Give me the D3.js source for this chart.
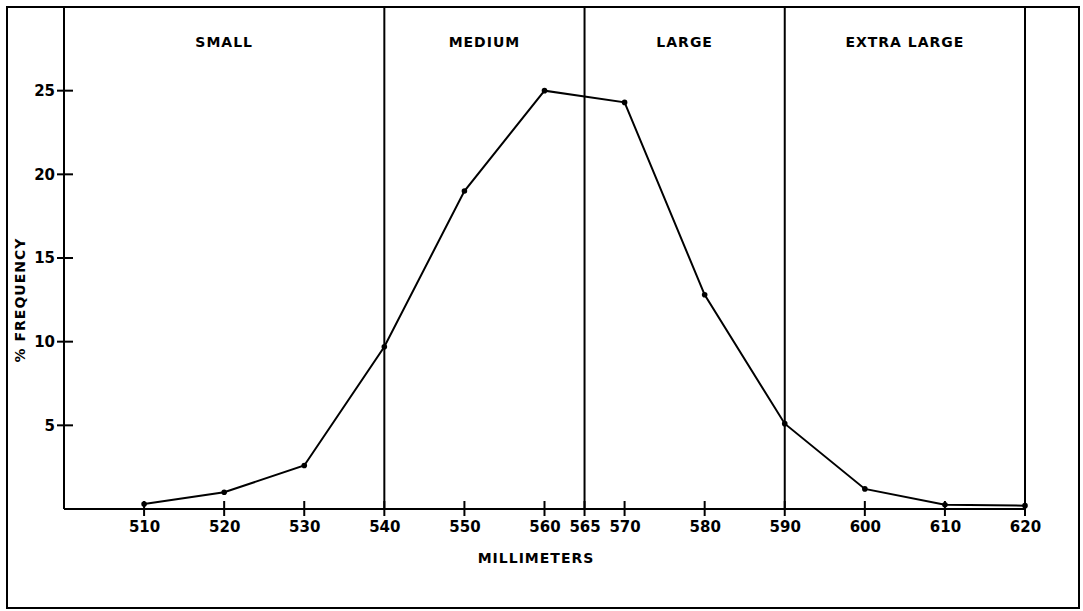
<!DOCTYPE html>
<html>
<head>
<meta charset="utf-8">
<script src="https://cdn.jsdelivr.net/npm/d3@7"></script>
<style>
  html, body { margin: 0; padding: 0; background: #fff; }
  svg text { font-family: "DejaVu Sans", "Liberation Sans", sans-serif; font-weight: bold; fill: #000; }
</style>
</head>
<body>
<svg id="chart" width="1083" height="611"></svg>
<script>
// ---- data ----
const sizes = [510, 520, 530, 540, 550, 560, 570, 580, 590, 600, 610, 620];
const frequency = [0.3, 1.0, 2.6, 9.7, 19.0, 25.0, 24.3, 12.8, 5.1, 1.2, 0.25, 0.2];
const xTicks = [510, 520, 530, 540, 550, 560, 565, 570, 580, 590, 600, 610, 620];
const yTicks = [5, 10, 15, 20, 25];
const boundaries = [540, 565, 590, 620];
const categories = ["SMALL", "MEDIUM", "LARGE", "EXTRA LARGE"];
const categoryRanges = [[500, 540], [540, 565], [565, 590], [590, 620]];

const svg = d3.select("#chart");
const x = d3.scaleLinear().domain([500, 620]).range([64, 1025]);
const y = d3.scaleLinear().domain([0, 30]).range([509, 7]);

// outer frame
svg.append("rect").attr("x", 7).attr("y", 7).attr("width", 1072).attr("height", 601)
  .attr("fill", "none").attr("stroke", "#000").attr("stroke-width", 2);

// category boundaries
svg.selectAll("line.bound").data(boundaries).join("line")
  .attr("class", "bound")
  .attr("x1", d => x(d)).attr("x2", d => x(d))
  .attr("y1", y(30)).attr("y2", y(0))
  .attr("stroke", "#000").attr("stroke-width", 2);

// category labels
svg.selectAll("text.cat").data(categories).join("text")
  .attr("class", "cat")
  .attr("x", (d, i) => (x(categoryRanges[i][0]) + x(categoryRanges[i][1])) / 2)
  .attr("y", 47)
  .attr("text-anchor", "middle")
  .attr("font-size", 14)
  .attr("letter-spacing", 1)
  .text(d => d);

// y axis
const yAxis = d3.axisLeft(y).tickValues(yTicks).tickSize(0).tickPadding(9);
const gy = svg.append("g").attr("transform", `translate(${x(500)},0)`).call(yAxis);
gy.select(".domain").remove();
gy.selectAll(".tick text").attr("font-size", 15).attr("font-family", "DejaVu Sans").attr("font-weight", "bold");
svg.selectAll("line.ytick").data(yTicks).join("line").attr("class", "ytick")
  .attr("x1", x(500) - 7).attr("x2", x(500) + 9)
  .attr("y1", d => y(d)).attr("y2", d => y(d))
  .attr("stroke", "#000").attr("stroke-width", 2);
svg.append("line").attr("x1", x(500)).attr("x2", x(500)).attr("y1", y(30)).attr("y2", y(0))
  .attr("stroke", "#000").attr("stroke-width", 2);

// x axis
const xAxis = d3.axisBottom(x).tickValues(xTicks).tickSize(0).tickPadding(12).tickFormat(d3.format("d"));
const gx = svg.append("g").attr("transform", `translate(0,${y(0)})`).call(xAxis);
gx.select(".domain").remove();
gx.selectAll(".tick text").attr("font-size", 15).attr("font-family", "DejaVu Sans").attr("font-weight", "bold");
svg.selectAll("line.xtick").data(xTicks).join("line").attr("class", "xtick")
  .attr("x1", d => x(d)).attr("x2", d => x(d))
  .attr("y1", y(0) - 8).attr("y2", y(0) + 7)
  .attr("stroke", "#000").attr("stroke-width", 2);
svg.append("line").attr("x1", x(500)).attr("x2", x(620)).attr("y1", y(0)).attr("y2", y(0))
  .attr("stroke", "#000").attr("stroke-width", 2);

// axis titles
svg.append("text").attr("x", 536).attr("y", 563).attr("text-anchor", "middle")
  .attr("font-size", 14).attr("letter-spacing", 1).text("MILLIMETERS");
svg.append("text").attr("transform", "translate(25,300) rotate(-90)").attr("text-anchor", "middle")
  .attr("font-size", 14).attr("letter-spacing", 1).text("% FREQUENCY");

// data line
const pts = sizes.map((s, i) => [s, frequency[i]]);
svg.append("path").datum(pts)
  .attr("d", d3.line().x(d => x(d[0])).y(d => y(d[1])))
  .attr("fill", "none").attr("stroke", "#000").attr("stroke-width", 2);
svg.selectAll("circle.pt").data(pts).join("circle")
  .attr("class", "pt")
  .attr("cx", d => x(d[0])).attr("cy", d => y(d[1])).attr("r", 2.8).attr("fill", "#000");
</script>
</body>
</html>
